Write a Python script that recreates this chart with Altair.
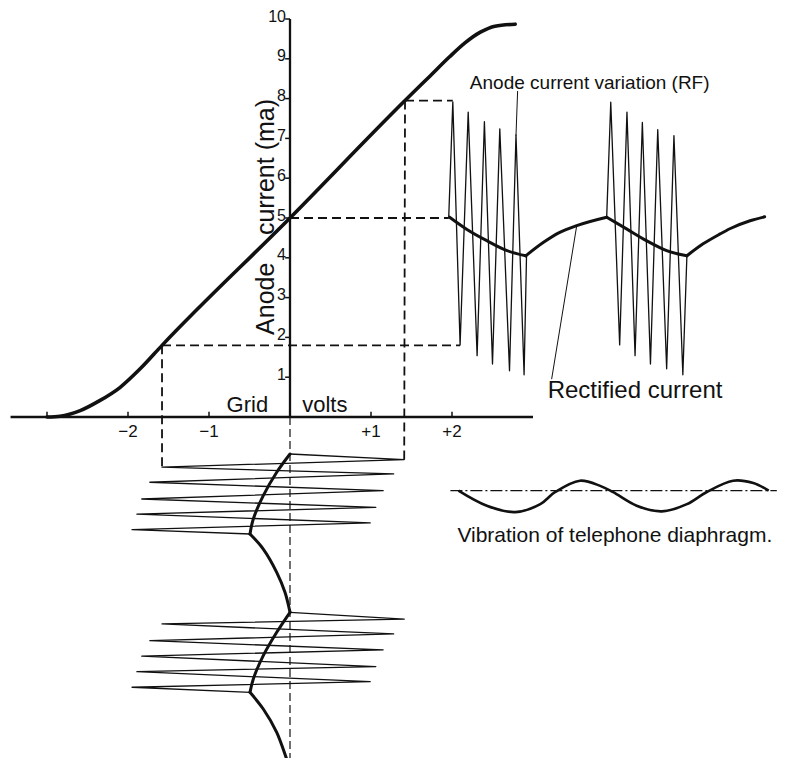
import altair as alt
import pandas as pd

# ---------------- data (x in grid volts, y in anode milliamps) ----------------
# valve characteristic curve
curve_v = [-3.00, -2.84, -2.59, -2.35, -2.10, -1.85, -1.58, 0.00, 1.42, 1.73, 1.97, 2.16, 2.35, 2.53, 2.78]
curve_ma = [0.00, 0.02, 0.16, 0.41, 0.74, 1.21, 1.80, 5.00, 7.95, 8.57, 9.05, 9.40, 9.67, 9.82, 9.87]

# axis ticks / labels
y_ticks = [1, 2, 3, 4, 5, 6, 7, 8, 9, 10]
y_tick_labels = ["1", "2", "3", "4", "5", "6", "7", "8", "9", "10"]
x_ticks = [-3, -2, -1, 1, 2]
x_label_vals = [-2, -1, 1, 2]
x_tick_labels = ["\u22122", "\u22121", "+1", "+2"]
x_axis_range = [-3.45, 3.0]
y_axis_range = [0, 10]

# dashed projection lines (start x, start y, end x, end y)
guide_x1 = [-1.58, 0.00, 1.42, -1.58, 1.42]
guide_y1 = [1.80, 5.00, 7.95, 1.80, 7.95]
guide_x2 = [2.10, 1.96, 2.01, -1.58, 1.41]
guide_y2 = [1.80, 5.00, 7.95, -1.26, -1.07]

# anode current variation (RF) - two trains
rf1_t = [1.96, 2.01, 2.10, 2.20, 2.31, 2.40, 2.50, 2.59, 2.71, 2.79, 2.89, 2.92]
rf1_ma = [5.03, 7.92, 1.81, 7.66, 1.54, 7.42, 1.33, 7.24, 1.16, 7.09, 1.06, 4.05]
rf2_t = [3.91, 3.96, 4.07, 4.16, 4.26, 4.35, 4.45, 4.54, 4.65, 4.74, 4.85, 4.90]
rf2_ma = [5.03, 7.91, 1.81, 7.66, 1.54, 7.40, 1.33, 7.22, 1.21, 7.07, 1.06, 4.05]

# rectified current (arcs)
rect_arcs_t = [
    [1.97, 2.18, 2.43, 2.68, 2.91],
    [2.91, 3.13, 3.33, 3.54, 3.91],
    [3.91, 4.16, 4.40, 4.65, 4.90],
    [4.90, 5.10, 5.31, 5.43, 5.68, 5.86],
]
rect_arcs_ma = [
    [5.02, 4.72, 4.43, 4.18, 4.05],
    [4.05, 4.39, 4.64, 4.81, 5.02],
    [5.02, 4.72, 4.43, 4.18, 4.05],
    [4.05, 4.35, 4.60, 4.73, 4.93, 5.03],
]

# leader lines
lead_x = [[2.81, 2.79], [3.54, 3.23]]
lead_y = [[8.19, 7.07], [4.81, 0.95]]

# grid voltage RF trains drawn downward (time running down)
g1_v = [0.00, 1.41, -1.58, 1.28, -1.73, 1.15, -1.83, 1.06, -1.89, 0.99, -1.95, -0.49]
g1_t = [-0.93, -1.07, -1.26, -1.43, -1.64, -1.85, -2.06, -2.27, -2.44, -2.66, -2.83, -2.94]
g2_v = [0.00, 1.41, -1.58, 1.28, -1.73, 1.15, -1.83, 1.06, -1.89, 0.99, -1.95, -0.49]
g2_t = [-4.91, -5.08, -5.20, -5.45, -5.62, -5.85, -6.01, -6.27, -6.40, -6.65, -6.79, -6.92]

# grid mean-voltage envelope arcs
genv_v = [
    [0.00, -0.164, -0.330, -0.453, -0.494],
    [-0.494, -0.330, -0.164, -0.062, 0.00],
    [0.00, -0.164, -0.330, -0.453, -0.494],
    [-0.494, -0.330, -0.164, -0.041, 0.00],
]
genv_t = [
    [-0.93, -1.389, -1.977, -2.563, -2.940],
    [-2.940, -3.317, -3.902, -4.405, -4.907],
    [-4.907, -5.410, -5.997, -6.583, -6.917],
    [-6.917, -7.337, -7.922, -8.593, -8.802],
]
center_t = [0.0, -8.8]

# telephone diaphragm vibration
vib_t = [2.08, 2.43, 2.78, 3.09, 3.27, 3.58, 3.83, 3.99, 4.28, 4.59, 4.90, 5.14, 5.47, 5.72, 5.91]
vib_y = [-1.85, -2.23, -2.39, -2.19, -1.89, -1.60, -1.73, -1.89, -2.23, -2.37, -2.19, -1.89, -1.60, -1.66, -1.85]
vib_axis_t = [1.98, 6.01]
vib_axis_y = -1.85

# ---------------- layout ----------------
W, H = 775, 750
PX_PER_V, PX_PER_MA = 81.0, 39.8
ORIGIN_X, ORIGIN_Y = 282.0, 409.0
XMIN = -ORIGIN_X / PX_PER_V
XMAX = XMIN + W / PX_PER_V
YMAX = ORIGIN_Y / PX_PER_MA
YMIN = YMAX - H / PX_PER_MA

INK = "#111111"
FONT = "Liberation Sans"

XS = alt.Scale(domain=[XMIN, XMAX], nice=False, zero=False)
YS = alt.Scale(domain=[YMIN, YMAX], nice=False, zero=False)


def xq(f="x"):
    return alt.X(f"{f}:Q", scale=XS, axis=None)


def yq(f="y"):
    return alt.Y(f"{f}:Q", scale=YS, axis=None)


def poly(groups):
    rows = []
    for g, xs, ys in groups:
        for i, (a, b) in enumerate(zip(xs, ys)):
            rows.append({"g": str(g), "i": i, "x": a, "y": b})
    return pd.DataFrame(rows)


def lines(df, **mk):
    return alt.Chart(df).mark_line(**mk).encode(x=xq(), y=yq(), detail="g:N", order="i:Q")


layers = []

# axes
axes_df = poly([
    ("xa", x_axis_range, [0, 0]),
    ("ya", [0, 0], y_axis_range),
])
layers.append(lines(axes_df, color=INK, strokeWidth=2.3))

ytick_df = pd.DataFrame({"x": [0.0] * len(y_ticks), "y": y_ticks})
layers.append(
    alt.Chart(ytick_df).transform_calculate(x2="datum.x - 0.06")
    .mark_rule(color=INK, strokeWidth=1.5)
    .encode(x=xq(), x2="x2:Q", y=yq())
)
xtick_df = pd.DataFrame({"x": x_ticks, "y": [0.0] * len(x_ticks)})
layers.append(
    alt.Chart(xtick_df).transform_calculate(y2="datum.y + 0.13")
    .mark_rule(color=INK, strokeWidth=1.5)
    .encode(x=xq(), y=yq(), y2="y2:Q")
)

ylab_df = pd.DataFrame({"x": [0.0] * len(y_ticks), "y": y_ticks, "t": y_tick_labels})
layers.append(
    alt.Chart(ylab_df).transform_calculate(xx="datum.x - 0.05", yy="datum.y + 0.06")
    .mark_text(align="right", baseline="middle", font=FONT, fontSize=16, color=INK)
    .encode(x=xq("xx"), y=yq("yy"), text="t:N")
)
xlab_df = pd.DataFrame({"x": x_label_vals, "y": [0.0] * len(x_label_vals), "t": x_tick_labels})
layers.append(
    alt.Chart(xlab_df).transform_calculate(yy="datum.y - 0.38")
    .mark_text(align="center", baseline="middle", font=FONT, fontSize=17, color=INK)
    .encode(x=xq(), y=yq("yy"), text="t:N")
)

# characteristic curve
layers.append(lines(poly([("c", curve_v, curve_ma)]), color=INK, strokeWidth=3.6,
                    interpolate="monotone", strokeCap="round"))

# dashed guides
guide_groups = [(k, [guide_x1[k], guide_x2[k]], [guide_y1[k], guide_y2[k]]) for k in range(len(guide_x1))]
layers.append(lines(poly(guide_groups), color=INK, strokeWidth=1.8, strokeDash=[9, 5]))

# RF anode current
layers.append(lines(poly([("r1", rf1_t, rf1_ma), ("r2", rf2_t, rf2_ma)]), color=INK, strokeWidth=1.3,
                    strokeJoin="round"))

# rectified current
rect_groups = [(k, rect_arcs_t[k], rect_arcs_ma[k]) for k in range(len(rect_arcs_t))]
layers.append(lines(poly(rect_groups), color=INK, strokeWidth=3.0, interpolate="monotone", strokeCap="round"))

# leader lines
lead_groups = [(k, lead_x[k], lead_y[k]) for k in range(len(lead_x))]
layers.append(lines(poly(lead_groups), color=INK, strokeWidth=1.0))

# grid centre line (below axis)
layers.append(lines(poly([("cl", [0.0, 0.0], center_t)]), color=INK, strokeWidth=1.2, strokeDash=[8, 4]))

# grid RF trains
layers.append(lines(poly([("g1", g1_v, g1_t), ("g2", g2_v, g2_t)]), color=INK, strokeWidth=1.3,
                    strokeJoin="round"))

# grid envelope
genv_groups = [(k, genv_v[k], genv_t[k]) for k in range(len(genv_v))]
layers.append(lines(poly(genv_groups), color=INK, strokeWidth=3.0, interpolate="catmull-rom", strokeCap="round"))

# vibration
layers.append(lines(poly([("va", vib_axis_t, [vib_axis_y, vib_axis_y])]), color=INK, strokeWidth=1.2,
                    strokeDash=[12, 3, 2, 3]))
layers.append(lines(poly([("v", vib_t, vib_y)]), color=INK, strokeWidth=2.6, interpolate="catmull-rom"))

# text labels
label_text = ["Anode current variation (RF)", "Rectified current", "Vibration of telephone  diaphragm."]
label_x = [3.70, 4.26, 4.01]
label_y = [8.39, 0.65, -2.98]
label_size = [19, 24, 21]
for t, lx, ly, s in zip(label_text, label_x, label_y, label_size):
    layers.append(
        alt.Chart(pd.DataFrame({"x": [lx], "y": [ly], "t": [t]}))
        .mark_text(align="center", baseline="middle", font=FONT, fontSize=s, color=INK)
        .encode(x=xq(), y=yq(), text="t:N")
    )

gv_text = ["Grid", "volts"]
gv_x = [-0.27, 0.15]
gv_align = ["right", "left"]
for t, lx, al in zip(gv_text, gv_x, gv_align):
    layers.append(
        alt.Chart(pd.DataFrame({"x": [lx], "y": [0.30], "t": [t]}))
        .mark_text(align=al, baseline="middle", font=FONT, fontSize=22, color=INK)
        .encode(x=xq(), y=yq(), text="t:N")
    )

title_text = ["Anode", "current (ma)"]
title_y = [2.97, 6.28]
for t, ty in zip(title_text, title_y):
    layers.append(
        alt.Chart(pd.DataFrame({"x": [-0.295], "y": [ty], "t": [t]}))
        .mark_text(align="center", baseline="middle", font=FONT, fontSize=25, angle=270, color=INK)
        .encode(x=xq(), y=yq(), text="t:N")
    )

chart = (
    alt.layer(*layers)
    .properties(width=W, height=H, autosize=alt.AutoSizeParams(type="none"), padding=0, background="white")
    .configure_view(stroke=None)
)

chart.save("out.html", embed_options={"renderer": "svg", "actions": False})
